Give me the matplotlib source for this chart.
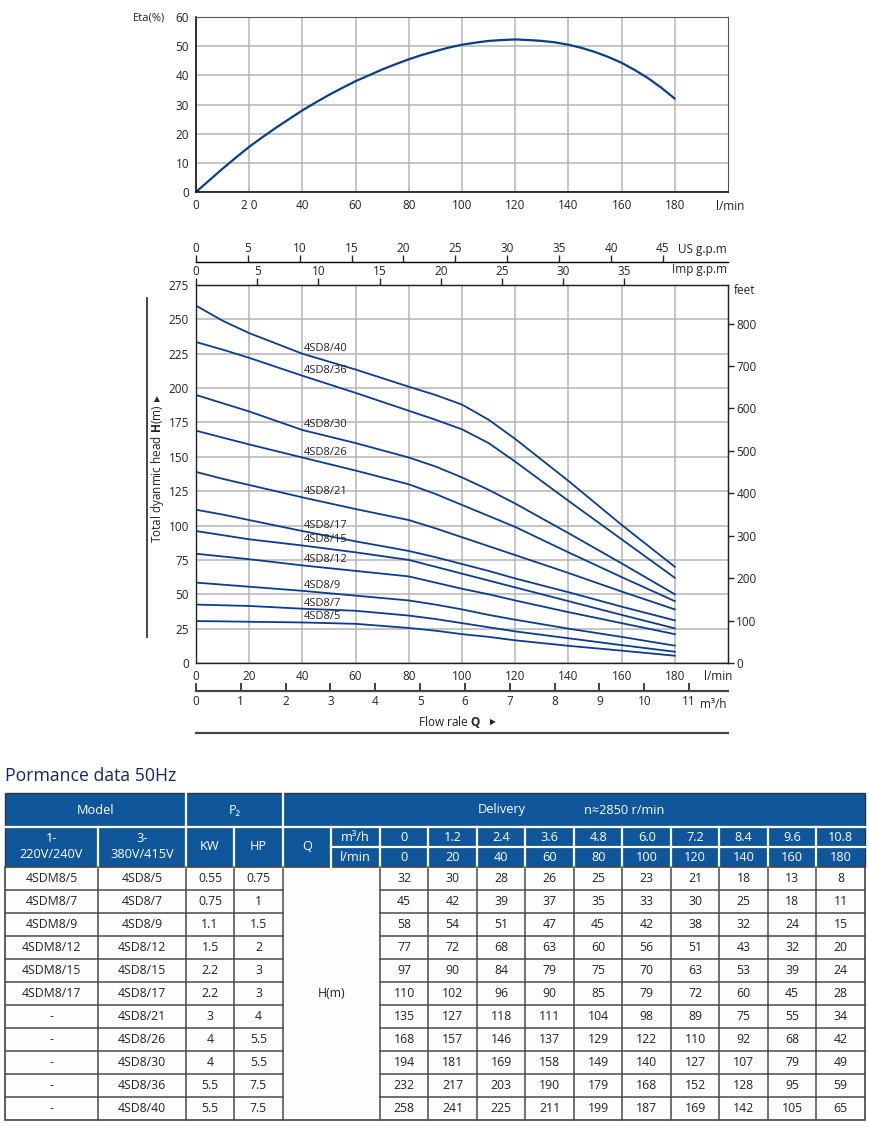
import matplotlib
matplotlib.use('Agg')
import matplotlib.pyplot as plt
from matplotlib.patches import Rectangle
from matplotlib.lines import Line2D

plt.rcParams['font.family'] = ['Open Sans', 'DejaVu Sans']
plt.rcParams['mathtext.fontset'] = 'custom'
plt.rcParams['mathtext.rm'] = 'Open Sans'
plt.rcParams['mathtext.bf'] = 'Open Sans:bold'

W, H = 870, 1127
LINE_BLUE = '#0b3d8c'
HEAD_BG = '#0f569b'
GRID = '#b5b5b5'
TXT = '#222222'

# unit scales as drawn on the chart (l/min per unit)
USGPM = 3.9
IMPGPM = 4.6
M3H = 16.85
FT_PER_M = 3.24

# ── efficiency curve ────────────────────────────────────────────────────────
ETA_Q = [0, 5, 10, 15, 20, 25, 30, 35, 40, 45, 50, 55, 60, 65, 70, 75, 80, 85, 90,
         95, 100, 105, 110, 115, 120, 125, 130, 135, 140, 145, 150, 155, 160, 165,
         170, 175, 180]
ETA = [0, 4, 8, 11.8, 15.5, 18.8, 22, 25, 28, 30.7, 33.3, 35.7, 38, 40, 42, 43.8,
       45.5, 47, 48.3, 49.5, 50.5, 51.2, 51.8, 52.1, 52.3, 52.1, 51.8, 51.3, 50.5,
       49.4, 48, 46.3, 44.3, 41.8, 39, 35.7, 32]

# ── head curves ─────────────────────────────────────────────────────────────
Q_PTS = [0, 10, 20, 40, 60, 80, 90, 100, 110, 120, 140, 160, 180]
H_40 = [260, 249, 240, 225, 213.5, 201, 195, 188, 177, 163, 132.5, 100.5, 70]
H_36 = [233.5, 228, 222, 209, 196.5, 183.5, 177, 170, 160, 146.5, 118, 90, 62]
H_30 = [195, 189, 183, 169.5, 160, 149.5, 143, 135, 126, 116, 94.5, 72.5, 50]
H_26 = [169, 164, 159, 149.5, 140, 130, 123, 115, 107, 99, 80.5, 62.5, 45]
H_21 = [139, 134, 129.5, 120.5, 112, 104, 98, 91.5, 85, 78.5, 65.5, 52, 39]
H_17 = [111.5, 108, 104, 96, 88.5, 81.5, 77, 72, 67, 61.5, 51.5, 41, 31]
H_15 = [96, 93, 90, 85.5, 80.5, 75, 70, 65, 60, 55, 45, 35, 25.2]
H_12 = [79.5, 77.5, 75.5, 71, 67, 63, 58.5, 54, 50, 45.5, 37, 29, 21]
H_9 = [58.5, 57, 55.5, 52.5, 49, 45.5, 42.5, 39, 35, 31.5, 25, 19, 12.6]
H_7 = [42.5, 42, 41.5, 39.5, 38, 34.5, 32, 29, 26, 23, 18, 13, 8.2]
H_5 = [30.5, 30.3, 30, 29.5, 28.5, 25.5, 23.5, 21, 19, 16.5, 12.5, 9, 5.3]

CURVE_NAMES = ['4SD8/40', '4SD8/36', '4SD8/30', '4SD8/26', '4SD8/21', '4SD8/17',
               '4SD8/15', '4SD8/12', '4SD8/9', '4SD8/7', '4SD8/5']
CURVES = [H_40, H_36, H_30, H_26, H_21, H_17, H_15, H_12, H_9, H_7, H_5]

# ── performance table ───────────────────────────────────────────────────────
MODEL_1PH = ['4SDM8/5', '4SDM8/7', '4SDM8/9', '4SDM8/12', '4SDM8/15', '4SDM8/17',
             '-', '-', '-', '-', '-']
MODEL_3PH = ['4SD8/5', '4SD8/7', '4SD8/9', '4SD8/12', '4SD8/15', '4SD8/17',
             '4SD8/21', '4SD8/26', '4SD8/30', '4SD8/36', '4SD8/40']
KW = ['0.55', '0.75', '1.1', '1.5', '2.2', '2.2', '3', '4', '4', '5.5', '5.5']
HP = ['0.75', '1', '1.5', '2', '3', '3', '4', '5.5', '5.5', '7.5', '7.5']
Q_M3H = ['0', '1.2', '2.4', '3.6', '4.8', '6.0', '7.2', '8.4', '9.6', '10.8']
Q_LMIN = ['0', '20', '40', '60', '80', '100', '120', '140', '160', '180']
H_TABLE = [
    [32, 30, 28, 26, 25, 23, 21, 18, 13, 8],
    [45, 42, 39, 37, 35, 33, 30, 25, 18, 11],
    [58, 54, 51, 47, 45, 42, 38, 32, 24, 15],
    [77, 72, 68, 63, 60, 56, 51, 43, 32, 20],
    [97, 90, 84, 79, 75, 70, 63, 53, 39, 24],
    [110, 102, 96, 90, 85, 79, 72, 60, 45, 28],
    [135, 127, 118, 111, 104, 98, 89, 75, 55, 34],
    [168, 157, 146, 137, 129, 122, 110, 92, 68, 42],
    [194, 181, 169, 158, 149, 140, 127, 107, 79, 49],
    [232, 217, 203, 190, 179, 168, 152, 128, 95, 59],
    [258, 241, 225, 211, 199, 187, 169, 142, 105, 65],
]


def box(px_left, px_top, px_w, px_h):
    return [px_left / W, 1 - (px_top + px_h) / H, px_w / W, px_h / H]


fig = plt.figure(figsize=(W / 100, H / 100), dpi=100)
fig.patch.set_facecolor('white')

# ── Chart 1: efficiency ─────────────────────────────────────────────────────
ax_e = fig.add_axes(box(196, 17, 532, 175))
ax_e.plot(ETA_Q, ETA, color=LINE_BLUE, lw=1.6, solid_capstyle='round',
          solid_joinstyle='round')
ax_e.set_xlim(0, 200)
ax_e.set_ylim(0, 60)
ax_e.set_xticks(range(0, 181, 20))
ax_e.set_xticklabels(['0', '2 0'] + [str(v) for v in range(40, 181, 20)])
ax_e.set_yticks(range(0, 61, 10))
ax_e.grid(color=GRID, lw=1.1)
ax_e.set_axisbelow(True)
ax_e.tick_params(length=0, labelsize=8.5, colors=TXT, pad=5)
for s in ['left', 'bottom']:
    ax_e.spines[s].set_color('#111111')
    ax_e.spines[s].set_linewidth(1.2)
for s in ['top', 'right']:
    ax_e.spines[s].set_color('#555555')
    ax_e.spines[s].set_linewidth(0.8)

# ── Chart 2: head curves ────────────────────────────────────────────────────
ax_h = fig.add_axes(box(196, 285, 532, 378))
i40 = Q_PTS.index(40)
for name, hs in zip(CURVE_NAMES, CURVES):
    ax_h.plot(Q_PTS, hs, color=LINE_BLUE, lw=1.3, solid_joinstyle='round')
    ax_h.text(40.5, hs[i40] + 4, name, fontsize=8, color=TXT, ha='left', va='center')
ax_h.set_xlim(0, 200)
ax_h.set_ylim(0, 275)
ax_h.set_xticks(range(0, 181, 20))
ax_h.set_yticks(range(0, 276, 25))
ax_h.grid(color=GRID, lw=1.1)
ax_h.set_axisbelow(True)
ax_h.tick_params(length=0, labelsize=8.5, colors=TXT, pad=5)
for s in ax_h.spines.values():
    s.set_color('#222222')
    s.set_linewidth(1.0)

ax_ft = ax_h.secondary_yaxis('right', functions=(lambda m: m * FT_PER_M,
                                                 lambda f: f / FT_PER_M))
ax_ft.set_yticks(range(0, 801, 100))
ax_ft.tick_params(length=4, width=1, labelsize=8.5, colors=TXT, pad=2)

ax_imp = ax_h.secondary_xaxis('top', functions=(lambda q: q / IMPGPM,
                                                lambda g: g * IMPGPM))
ax_imp.set_xticks(range(0, 36, 5))
ax_imp.tick_params(length=5, width=1, labelsize=8.5, colors=TXT, pad=0)

ax_us = ax_h.secondary_xaxis(1 + 23 / 378, functions=(lambda q: q / USGPM,
                                                      lambda g: g * USGPM))
ax_us.set_xticks(range(0, 46, 5))
ax_us.tick_params(length=5, width=1, labelsize=8.5, colors=TXT, pad=0)
ax_us.spines['top'].set_linewidth(1.0)

ax_m3 = ax_h.secondary_xaxis(-28 / 378, functions=(lambda q: q / M3H,
                                                   lambda m: m * M3H))
ax_m3.set_xticks(range(0, 12))
ax_m3.tick_params(direction='in', length=6, width=1.2, labelsize=8.5, colors=TXT, pad=3)
ax_m3.spines['bottom'].set_linewidth(1.6)
ax_m3.spines['bottom'].set_color('#444444')

# ── overlay in pixel coordinates for captions, rules and the table ──────────
bg = fig.add_axes([0, 0, 1, 1])
bg.set_xlim(0, W)
bg.set_ylim(H, 0)
bg.axis('off')

def t(x, y, s, **kw):
    kw.setdefault('fontsize', 8.5)
    kw.setdefault('color', TXT)
    kw.setdefault('ha', 'center')
    kw.setdefault('va', 'center')
    bg.text(x, y, s, **kw)

t(165, 18, 'Eta(%)', ha='right', fontsize=8)
t(716, 207, 'l/min', ha='left')
t(704, 676, 'l/min', ha='left')
t(727, 250, 'US g.p.m', ha='right')
t(727, 270, 'Imp g.p.m', ha='right')
t(734, 290, 'feet', ha='left')
t(727, 704, 'm³/h', ha='right')
t(481, 722, r'Flow rale $\mathbf{Q}$', ha='right')
t(493, 722, '▶', fontsize=5.5, family=['DejaVu Sans'])
t(158, 474, r'Total dyanmic head $\mathbf{H}$(m)', rotation=90)
t(158, 398, '▶', fontsize=5.5, rotation=90, family=['DejaVu Sans'])

bg.add_line(Line2D([147, 147], [298, 637], color='#444444', lw=1.4))
bg.add_line(Line2D([196, 728], [733, 733], color='#444444', lw=1.6))

# ── Table ───────────────────────────────────────────────────────────────────
t(5, 776, 'Pormance data 50Hz', ha='left', fontsize=12.7, color='#16285a')

XL, XR = 5, 865
COLS = [5, 98, 186, 234, 283, 331, 380]
VAL_W = (XR - 380) / len(Q_LMIN)
VAL_EDGES = [380 + VAL_W * j for j in range(len(Q_LMIN) + 1)]
Y_H1, Y_H2, Y_H3, Y_D = 793, 827, 847, 867
ROW_H = 23
Y_END = Y_D + ROW_H * len(MODEL_3PH)

bg.add_patch(Rectangle((XL, Y_H1), XR - XL, Y_D - Y_H1, facecolor=HEAD_BG,
                       edgecolor='#333333', lw=1.0))
bg.add_patch(Rectangle((XL, Y_D), XR - XL, Y_END - Y_D, facecolor='#fdfdfd',
                       edgecolor='#444444', lw=1.2))

white = dict(color='white', lw=1.6)
bg.add_line(Line2D([XL, XR], [Y_H2, Y_H2], **white))
bg.add_line(Line2D([331, XR], [Y_H3, Y_H3], **white))
for x in [186, 283]:
    bg.add_line(Line2D([x, x], [Y_H1, Y_H2], **white))
for x in COLS[1:] + VAL_EDGES[1:-1]:
    bg.add_line(Line2D([x, x], [Y_H2, Y_D], **white))

cell = dict(color='#4a4a4a', lw=1.1)
for i in range(1, len(MODEL_3PH)):
    y = Y_D + ROW_H * i
    bg.add_line(Line2D([XL, 283], [y, y], **cell))
    bg.add_line(Line2D([380, XR], [y, y], **cell))
for x in [98, 186, 234, 283, 380] + VAL_EDGES[1:-1]:
    bg.add_line(Line2D([x, x], [Y_D, Y_END], **cell))

hdr = dict(color='white', fontsize=9.2)
t((5 + 186) / 2, 810, 'Model', **hdr)
t((186 + 283) / 2, 810, 'P₂', **hdr)
t(502, 810, 'Delivery', **hdr)
t(624, 810, 'n≈2850 r/min', **hdr)
t((5 + 98) / 2, 839, '1-', **hdr)
t((5 + 98) / 2, 855, '220V/240V', **hdr)
t((98 + 186) / 2, 839, '3-', **hdr)
t((98 + 186) / 2, 855, '380V/415V', **hdr)
t((186 + 234) / 2, 847, 'KW', **hdr)
t((234 + 283) / 2, 847, 'HP', **hdr)
t((283 + 331) / 2, 847, 'Q', **hdr)
t((331 + 380) / 2, 837.5, 'm³/h', **hdr)
t((331 + 380) / 2, 857.5, 'l/min', **hdr)
for j, (a, b) in enumerate(zip(Q_M3H, Q_LMIN)):
    xc = 380 + VAL_W * (j + 0.5)
    t(xc, 837.5, a, **hdr)
    t(xc, 857.5, b, **hdr)

dat = dict(fontsize=8.8)
t((283 + 380) / 2, (Y_D + Y_END) / 2, 'H(m)', **dat)
for i in range(len(MODEL_3PH)):
    yc = Y_D + ROW_H * (i + 0.5)
    t((5 + 98) / 2, yc, MODEL_1PH[i], **dat)
    t((98 + 186) / 2, yc, MODEL_3PH[i], **dat)
    t((186 + 234) / 2, yc, KW[i], **dat)
    t((234 + 283) / 2, yc, HP[i], **dat)
    for j, v in enumerate(H_TABLE[i]):
        t(380 + VAL_W * (j + 0.5), yc, str(v), **dat)

fig.savefig('out.png', dpi=100)
